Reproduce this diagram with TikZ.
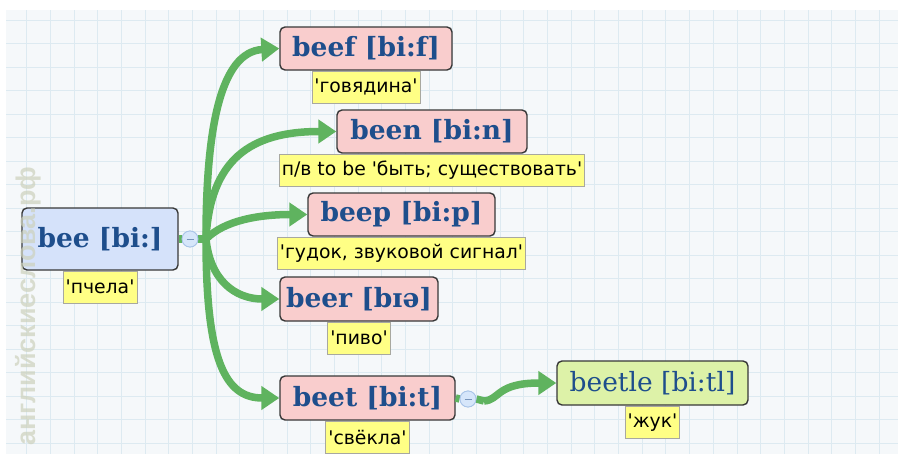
\documentclass[tikz,border=0pt]{standalone}
\usepackage{fontspec}
\setmainfont{DejaVu Sans}
\newfontfamily\headfont{DejaVu Serif}
\newfontfamily\labfont[Ligatures=TeXOff]{DejaVu Sans}
\newfontfamily\wmfont{Liberation Sans}
\usetikzlibrary{arrows.meta}
\definecolor{bgc}{HTML}{F5F8FA}
\definecolor{gridc}{HTML}{DDEAF1}
\definecolor{pinkc}{HTML}{F9CDCD}
\definecolor{bluec}{HTML}{D5E2FA}
\definecolor{greenc}{HTML}{DDF2A8}
\definecolor{yelc}{HTML}{FFFF85}
\definecolor{tblue}{HTML}{1E4E8C}
\definecolor{arrc}{HTML}{5FB35F}
\definecolor{bordc}{HTML}{383838}
\definecolor{labbord}{HTML}{A8A8A0}
\definecolor{circfill}{HTML}{D6E6FA}
\definecolor{circdraw}{HTML}{A8C4E8}
\definecolor{wmc}{HTML}{CDD1BC}
\begin{document}
\begin{tikzpicture}[x=1pt,y=-1pt,
  word/.style={draw=bordc, line width=1.4pt, rounded corners=5pt, text=tblue,
    font=\headfont\bfseries\fontsize{26.5}{30}\selectfont, inner sep=0pt, anchor=center},
  lab/.style={draw=labbord, line width=0.8pt, fill=yelc, text=black,
    font=\labfont\fontsize{18.8}{22}\selectfont, minimum height=32pt,
    inner xsep=2.5pt, inner ysep=0pt, anchor=north},
  conn/.style={draw=arrc, line width=7.5pt, -{Triangle[length=18pt,width=23pt]}},
  plainconn/.style={draw=arrc, line width=7.5pt},
  toggle/.style={circle, draw=circdraw, fill=circfill, line width=0.8pt, minimum size=16pt, inner sep=0pt}
]
\useasboundingbox (0,0) rectangle (898,458);
\fill[white] (0,0) rectangle (898,458);
\fill[bgc] (6,10) rectangle (898,454);
\begin{scope}
\clip (6,10) rectangle (898,454);
\foreach \k in {0,...,37} \draw[gridc, line width=1pt] ({26.9+23.67*\k},10) -- ++(0,444);
\foreach \k in {0,...,18} \draw[gridc, line width=1pt] (6,{20+23.5*\k}) -- ++(892,0);
\end{scope}

% nodes
\node[word, fill=bluec, minimum width=156pt, minimum height=62pt] (bee) at (100,239) {bee [bi:]};
\node[lab] (beel) at (bee.south) {'пчела'};
\node[toggle] (c1) at (190,239) {};
\coordinate (hub) at (206,239);

\node[word, fill=pinkc, minimum width=172pt, minimum height=43pt] (beef) at (366,48.5) {beef [bi:f]};
\node[lab] (beefl) at (beef.south) {'говядина'};
\node[word, fill=pinkc, minimum width=190pt, minimum height=43pt] (been) at (432,131.5) {been [bi:n]};
\node[lab] (beenl) at (been.south) {п/в to be 'быть; существовать'};
\node[word, fill=pinkc, minimum width=187pt, minimum height=43pt] (beep) at (401.5,214.5) {beep [bi:p]};
\node[lab] (beepl) at (beep.south) {'гудок, звуковой сигнал'};
\node[word, fill=pinkc, minimum width=158pt, minimum height=44pt] (beer) at (359,299) {beer [bɪə]};
\node[lab] (beerl) at (beer.south) {'пиво'};
\node[word, fill=pinkc, minimum width=175pt, minimum height=44pt] (beet) at (367.5,398) {beet [bi:t]};
\node[lab] (beetl) at (beet.south) {'свёкла'};
\node[toggle] (c2) at (468,399) {};
\node[word, fill=greenc, minimum width=191pt, minimum height=44pt, font=\headfont\fontsize{26.5}{30}\selectfont] (beetle) at (652.5,383) {beetle [bi:tl]};
\node[lab] (beetlel) at (beetle.south) {'жук'};

% connectors
\draw[plainconn] (bee.east) -- (c1.west);
\draw[plainconn] (c1.east) -- (hub);
\draw[conn] (hub) .. controls (206,130) and (220,52) .. (beef.west);
\draw[conn] (hub) .. controls (210,160) and (250,131.5) .. (been.west);
\draw[conn] (hub) .. controls (225,220) and (260,214.5) .. (beep.west);
\draw[conn] (hub) .. controls (210,280) and (235,299) .. (beer.west);
\draw[conn] (hub) .. controls (206,360) and (225,398) .. (beet.west);
\draw[plainconn] (beet.east) -- (c2.west);
\coordinate (c2o) at (484,401);
\draw[plainconn] (c2.east) -- (c2o);
\draw[conn] (c2o) .. controls (500,400) and (496,383) .. (beetle.west);
\node[toggle] at (c1) {};
\draw[tblue!60, line width=0.8pt] ([xshift=-3.5pt]c1.center) -- ([xshift=3.5pt]c1.center);
\node[toggle] at (c2) {};
\draw[tblue!60, line width=0.8pt] ([xshift=-3.5pt]c2.center) -- ([xshift=3.5pt]c2.center);

% watermark
\node[rotate=90, font=\wmfont\bfseries\fontsize{27}{30}\selectfont, text=wmc, opacity=0.7, inner sep=0pt] (wm) at (28,306) {английскиеслова.рф};
\end{tikzpicture}
\end{document}
